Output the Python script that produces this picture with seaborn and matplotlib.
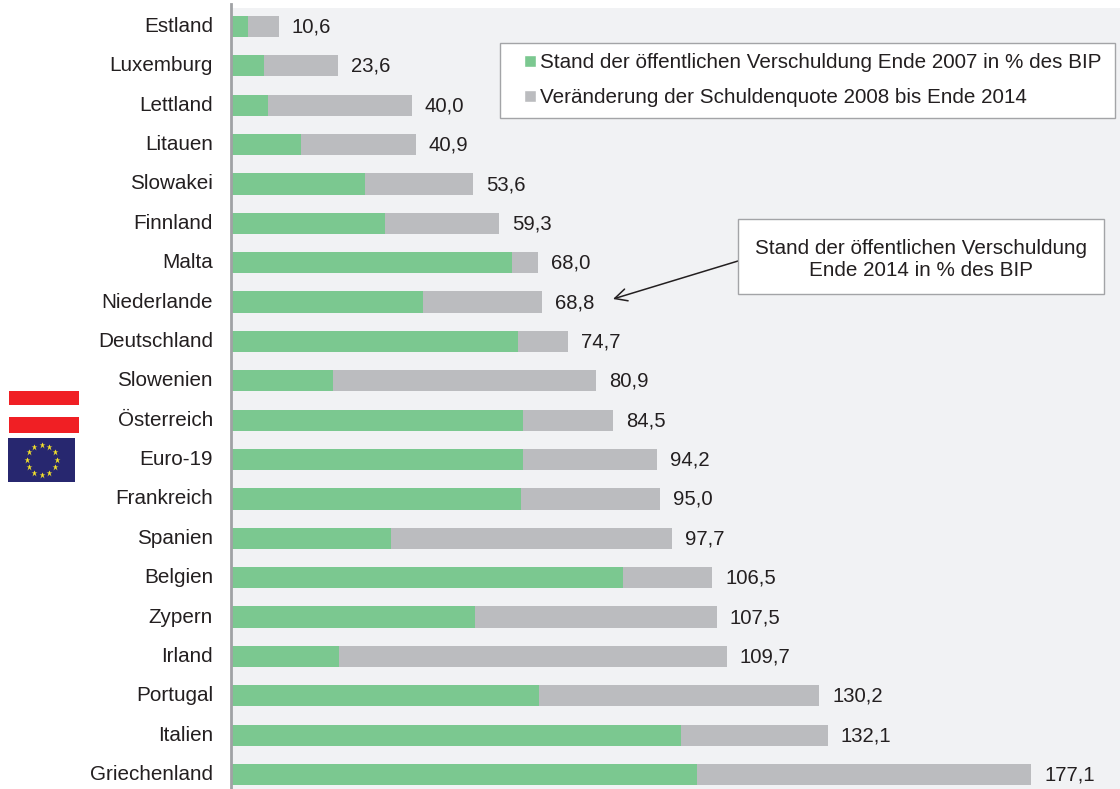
import numpy as np
import pandas as pd
import matplotlib
matplotlib.use("Agg")
import matplotlib.pyplot as plt
from matplotlib.patches import Rectangle
from matplotlib.transforms import ScaledTranslation
import seaborn as sns

countries = ["Estland", "Luxemburg", "Lettland", "Litauen", "Slowakei", "Finnland", "Malta",
             "Niederlande", "Deutschland", "Slowenien", "Österreich", "Euro-19", "Frankreich",
             "Spanien", "Belgien", "Zypern", "Irland", "Portugal", "Italien", "Griechenland"]
debt_2014 = [10.6, 23.6, 40.0, 40.9, 53.6, 59.3, 68.0, 68.8, 74.7, 80.9, 84.5, 94.2, 95.0,
             97.7, 106.5, 107.5, 109.7, 130.2, 132.1, 177.1]
debt_2007 = [3.7, 7.2, 8.2, 15.5, 29.7, 34.1, 62.3, 42.5, 63.6, 22.6, 64.7, 64.7, 64.1,
             35.4, 86.7, 54.0, 23.9, 68.2, 99.7, 103.2]
label_2007 = "Stand der öffentlichen Verschuldung Ende 2007 in % des BIP"
label_change = "Veränderung der Schuldenquote 2008 bis Ende 2014"
note_text = "Stand der öffentlichen Verschuldung\nEnde 2014 in % des BIP"

W, H = 1120, 789
sns.set_style("white")
plt.rcParams["font.family"] = ["Liberation Sans", "DejaVu Sans"]
TEXT = "#231f20"
GREEN = "#7bc890"
GREY = "#bbbcbf"
EDGE = "#a3a4a7"
FS = 14.9
FS_VAL = 14.6

def fx(p): return p / W
def fy(p): return 1 - p / H

df = pd.DataFrame({"land": countries, "d14": debt_2014, "d07": debt_2007})

fig = plt.figure(figsize=(W / 100, H / 100), dpi=100, facecolor="white")
ax = fig.add_axes([fx(231), 0, fx(889), fy(8)], facecolor="#f1f2f4")

sns.barplot(data=df, y="land", x="d14", color=GREY, saturation=1, width=0.54, ax=ax,
            errorbar=None, legend=False, linewidth=0)
total_bars = ax.containers[0]
sns.barplot(data=df, y="land", x="d07", color=GREEN, saturation=1, width=0.54, ax=ax,
            errorbar=None, legend=False, linewidth=0)

row = 39.368
ax.set_ylim(19 + 14.5 / row, -18.5 / row)
ax.set_xlim(0, 889 / 4.517)
ax.set_xlabel("")
ax.set_ylabel("")
ax.set_xticks([])
ax.tick_params(axis="y", length=0, pad=13, labelsize=FS, labelcolor=TEXT)
shift_up = ScaledTranslation(0, 2 / 100, fig.dpi_scale_trans)
for t in ax.get_yticklabels():
    t.set_transform(t.get_transform() + shift_up)

for side in ["top", "right", "bottom"]:
    ax.spines[side].set_visible(False)
ax.spines["left"].set_color("#a0a2a5")
ax.spines["left"].set_linewidth(2)
ax.spines["left"].set_bounds(19 + 14.5 / row, -22.5 / row)

value_labels = ax.bar_label(total_bars, labels=[f"{v:.1f}".replace(".", ",") for v in debt_2014],
                            padding=9.4, fontsize=FS_VAL, color=TEXT)
for t in value_labels:
    t.xyann = (t.xyann[0], t.xyann[1] - 0.4)

# Legend box and legend
fig.add_artist(Rectangle((fx(500), fy(118)), fx(615), 75 / H, transform=fig.transFigure,
                         facecolor="white", edgecolor=EDGE, linewidth=1, zorder=4))
h1 = Rectangle((0, 0), 1, 1, facecolor=GREEN)
h2 = Rectangle((0, 0), 1, 1, facecolor=GREY)
leg = fig.legend([h1, h2], [label_2007, label_change], loc="upper left",
                 bbox_to_anchor=(fx(524), fy(53.5)), bbox_transform=fig.transFigure,
                 borderaxespad=0, frameon=False, fontsize=FS, handlelength=0.58,
                 handleheight=0.55, handletextpad=0.2, labelspacing=0.77, borderpad=0,
                 labelcolor=TEXT)
leg.set_zorder(6)

# Note box with arrow
fig.add_artist(Rectangle((fx(738), fy(294)), fx(366), 75 / H, transform=fig.transFigure,
                         facecolor="white", edgecolor=EDGE, linewidth=1, zorder=5))
fig.text(fx(921), fy(259), note_text, ha="center", va="center", fontsize=FS, color=TEXT,
         linespacing=1.2, zorder=6)
ax.annotate("", xy=(fx(613), fy(299)), xytext=(fx(738), fy(261)),
            xycoords="figure fraction", textcoords="figure fraction",
            arrowprops=dict(arrowstyle="->", color=TEXT, lw=1.1, shrinkA=0, shrinkB=0,
                            mutation_scale=22))

# Flags
for (x0, y0, x1, y1) in [(9, 391, 79, 405), (9, 417, 79, 433)]:
    fig.add_artist(Rectangle((fx(x0), fy(y1)), fx(x1 - x0), (y1 - y0) / H,
                             transform=fig.transFigure, facecolor="#f01f24", edgecolor="none"))
fig.add_artist(Rectangle((fx(8), fy(438 + 44)), fx(67), 44 / H, transform=fig.transFigure,
                         facecolor="#27276f", edgecolor="none"))
star_angles = np.arange(12) * np.pi / 6
fig.add_artist(plt.Line2D(fx(41.7 + 15 * np.cos(star_angles)),
                          fy(459.7 + 15 * np.sin(star_angles)),
                          transform=fig.transFigure, linestyle="none", marker="*",
                          markersize=5, markerfacecolor="#f5e32a", markeredgecolor="none"))

fig.savefig("out.png", dpi=100)
